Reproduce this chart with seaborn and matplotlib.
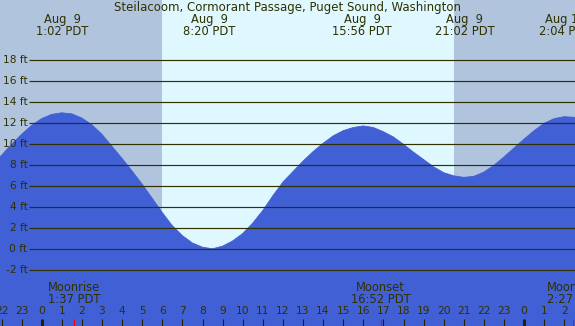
import numpy as np
import matplotlib
matplotlib.use("Agg")
import matplotlib.pyplot as plt
import seaborn as sns

# ─── DATA ─────────────────────────────────────────────────────────────
# hours relative to Aug 9 00:00 PDT, tide height in ft
hours = np.arange(-2.5, 27.01, 0.5)
heights = [7.95, 8.95, 10.0, 10.95, 11.8, 12.45, 12.85, 13.0,
           12.9, 12.5, 11.85, 10.95, 9.8, 8.65, 7.45, 6.2, 4.85, 3.5, 2.25,
           1.3, 0.6, 0.2, 0.05,
           0.3, 0.8, 1.5, 2.5, 3.7, 5.1, 6.4, 7.4, 8.4, 9.3, 10.1, 10.8,
           11.3, 11.6, 11.75,
           11.6, 11.2, 10.7, 10.0, 9.25, 8.55, 7.85, 7.3, 7.0, 6.85,
           6.95, 7.35, 8.0, 8.8, 9.65, 10.5, 11.3, 12.0, 12.45, 12.63,
           12.57, 12.35]

extreme_hours = [1 + 2/60, 8 + 20/60, 15 + 56/60, 21 + 2/60, 26 + 4/60]
extreme_dates = ["Aug  9", "Aug  9", "Aug  9", "Aug  9", "Aug 10"]
extreme_times = ["1:02 PDT", "8:20 PDT", "15:56 PDT", "21:02 PDT", "2:04 PDT"]

moon_hours = [1 + 37/60, 16 + 52/60, 26 + 27/60]
moon_names = ["Moonrise", "Moonset", "Moonrise"]
moon_times = ["1:37 PDT", "16:52 PDT", "2:27 PDT"]

sunrise = 5.98
sunset = 20.52

ft_levels = [-2, 0, 2, 4, 6, 8, 10, 12, 14, 16, 18]
hour_ticks = list(range(-2, 27))

TITLE = "Steilacoom, Cormorant Passage, Puget Sound, Washington"

# ─── STYLE ────────────────────────────────────────────────────────────
NIGHT = "#b0c4de"
DAY = "#dff8ff"
WATER = "#4160d6"
INK = "#303000"

sns.set_style("white")
plt.rcParams["font.family"] = ["DejaVu Sans"]

W, H = 575, 326
fig = plt.figure(figsize=(W / 100, H / 100), dpi=100)
ax = fig.add_axes([0, 0, 1, 1])

# pixel mapping: x = 41.7 + 20.1*h, y = 249.3 - 10.5*ft
x0 = -41.7 / 20.1
x1 = (W - 41.7) / 20.1
ax.set_xlim(x0, x1)
ax.set_ylim((249.3 - H) / 10.5, 249.3 / 10.5)
ax.axis("off")

# day / night background
ax.axvspan(x0, sunrise, color=NIGHT, lw=0, zorder=0)
ax.axvspan(sunrise, sunset, color=DAY, lw=0, zorder=0)
ax.axvspan(sunset, x1, color=NIGHT, lw=0, zorder=0)

# tide
ax.fill_between(hours, heights, -20, color=WATER, lw=0, zorder=1)
sns.lineplot(x=hours, y=heights, color=WATER, lw=0.6, ax=ax, zorder=1)

# grid lines and ft labels
ytr = ax.get_yaxis_transform()
ax.hlines(ft_levels, 29.3 / W, 1, color=INK, lw=0.85, transform=ytr, zorder=2)
for lv in ft_levels:
    ax.text(27.5 / W, lv, f"{lv} ft", ha="right", va="center",
            fontsize=7.7, color=INK, transform=ytr, zorder=3)

xtr = ax.get_xaxis_transform()

# title and high/low labels
ax.text(0.5, 1 - 7.5 / H, TITLE, ha="center", va="center",
        fontsize=8.5, color=INK, transform=ax.transAxes)
for hx, d, t in zip(extreme_hours, extreme_dates, extreme_times):
    ax.text(hx, 1 - 20 / H, d, ha="center", va="center",
            fontsize=8.3, color=INK, transform=xtr)
    ax.text(hx, 1 - 31.5 / H, t, ha="center", va="center",
            fontsize=8.3, color=INK, transform=xtr)

# moon labels
for hx, n, t in zip(moon_hours, moon_names, moon_times):
    ax.text(hx, 1 - 287.5 / H, n, ha="center", va="center",
            fontsize=8.3, color=INK, transform=xtr, zorder=3)
    ax.text(hx, 1 - 299.5 / H, t, ha="center", va="center",
            fontsize=8.3, color=INK, transform=xtr, zorder=3)

# hour axis at the bottom
for hx in hour_ticks:
    ax.text(hx, 1 - 311.5 / H, str(hx % 24), ha="center", va="center",
            fontsize=7.7, color=INK, transform=xtr, zorder=3)
tick_top = 7.5 / H
ax.vlines([h for h in hour_ticks if h % 24 != 0], 0, tick_top,
          color="#222200", lw=0.8, transform=xtr, zorder=3)
ax.vlines([h for h in hour_ticks if h % 24 == 0], 0, tick_top,
          color="#222200", lw=2.2, transform=xtr, zorder=3)
ax.vlines(moon_hours, 0, tick_top, color="red", lw=0.8, transform=xtr, zorder=4)

fig.savefig("out.png", dpi=100)
